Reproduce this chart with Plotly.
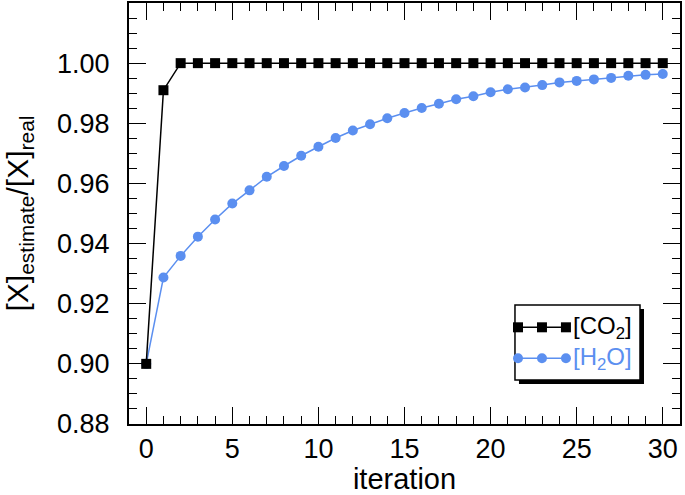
import plotly.graph_objects as go

iterations = list(range(0, 31))
co2 = [0.900, 0.991] + [1.000] * 29
h2o = [0.900, 0.9287, 0.9359, 0.9423, 0.9480, 0.9533, 0.9577, 0.9622, 0.9658, 0.9692,
       0.9722, 0.9751, 0.9776, 0.9797, 0.9817, 0.9834, 0.9851, 0.9865, 0.9880, 0.9890,
       0.9903, 0.9913, 0.9919, 0.9927, 0.9936, 0.9941, 0.9946, 0.9951, 0.9958, 0.9961,
       0.9964]
legend_labels = ["[CO<sub>2</sub>]", "[H<sub>2</sub>O]"]

BLUE = "#5b8ff0"
FONT = "Liberation Sans, Arial, Helvetica, sans-serif"

fig = go.Figure()
fig.add_trace(go.Scatter(x=iterations, y=h2o, mode="lines+markers",
                         name=legend_labels[1], showlegend=False,
                         line=dict(color=BLUE, width=1.5),
                         marker=dict(symbol="circle", size=10, color=BLUE)))
fig.add_trace(go.Scatter(x=iterations, y=co2, mode="lines+markers",
                         name=legend_labels[0], showlegend=False,
                         line=dict(color="black", width=1.5),
                         marker=dict(symbol="square", size=10, color="black")))

# --- custom legend (box with drop shadow, three-marker samples) in plot-fraction coords ---
lx0, lx1, ly0, ly1 = 0.7005, 0.9274, 0.1045, 0.2827
sx, sy = 4 / 551, 4 / 421
fig.add_shape(type="rect", xref="paper", yref="paper", layer="below",
              x0=lx0 + sx, x1=lx1 + sx, y0=ly0 - sy, y1=ly1 - sy,
              fillcolor="black", line=dict(width=0))
fig.add_shape(type="rect", xref="paper", yref="paper", layer="below",
              x0=lx0, x1=lx1, y0=ly0, y1=ly1,
              fillcolor="white", line=dict(color="black", width=1.5))
sample_x = [0.706, 0.7495, 0.793]
rows_y = [0.2297, 0.156]
styles = [("black", "square"), (BLUE, "circle")]
for (col, sym), yy in zip(styles, rows_y):
    fig.add_trace(go.Scatter(x=sample_x, y=[yy] * 3, xaxis="x2", yaxis="y2",
                             mode="lines+markers", showlegend=False, hoverinfo="skip",
                             line=dict(color=col, width=1.5),
                             marker=dict(symbol=sym, size=10, color=col)))
for (col, sym), yy, lab in zip(styles, rows_y, legend_labels):
    fig.add_annotation(x=0.802, y=yy, xref="paper", yref="paper", text=lab,
                       showarrow=False, xanchor="left", yanchor="middle",
                       font=dict(family=FONT, size=24, color=col))

axis_common = dict(showline=True, linecolor="black", linewidth=2, mirror="allticks",
                   ticks="inside", tickcolor="black", tickwidth=1.3,
                   showgrid=False, zeroline=False,
                   tickfont=dict(family=FONT, size=27, color="black"))

fig.update_xaxes(range=[-1, 31], tick0=0, dtick=5, ticklen=17,
                 minor=dict(ticks="inside", dtick=1, ticklen=8, tickcolor="black", tickwidth=1.3),
                 title=dict(text="iteration", font=dict(family=FONT, size=29, color="black"), standoff=11),
                 ticklabelstandoff=0,
                 **axis_common)
fig.update_yaxes(range=[0.88, 1.02], tick0=0.88, dtick=0.02, tickformat=".2f", ticklen=17,
                 minor=dict(ticks="inside", dtick=0.005, ticklen=8, tickcolor="black", tickwidth=1.3),
                 title=dict(text="[X]<sub>estimate</sub>/[X]<sub>real</sub>",
                            font=dict(family=FONT, size=30, color="black"), standoff=20),
                 ticklabelstandoff=12,
                 **axis_common)

fig.update_layout(width=685, height=495,
                  margin=dict(l=129, r=5, t=3, b=71, autoexpand=False),
                  paper_bgcolor="white", plot_bgcolor="white",
                  showlegend=False,
                  xaxis2=dict(overlaying="x", range=[0, 1], visible=False, fixedrange=True),
                  yaxis2=dict(overlaying="y", range=[0, 1], visible=False, fixedrange=True))

fig.write_html("out.html", config={"displayModeBar": False},
               post_script="document.body.style.margin='0';document.body.style.overflow='hidden';")
